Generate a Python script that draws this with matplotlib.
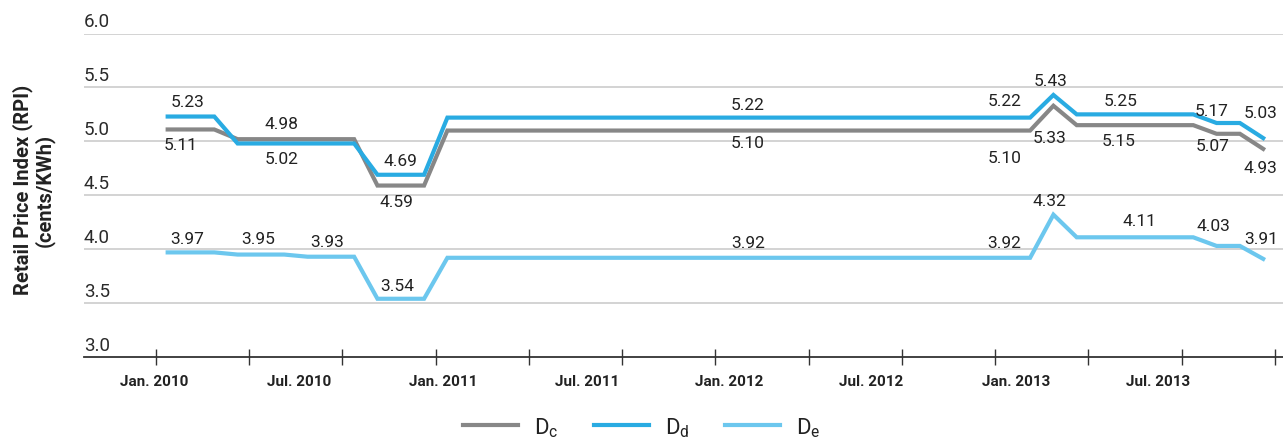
import numpy as np
import pandas as pd
import matplotlib
matplotlib.use("Agg")
import matplotlib.pyplot as plt
from matplotlib.transforms import blended_transform_factory

plt.rcParams["font.family"] = ["Roboto", "DejaVu Sans"]
plt.rcParams["mathtext.default"] = "regular"

# monthly values, Jan 2010 .. Dec 2013
months = pd.date_range("2010-01-01", periods=48, freq="MS")

d_c = [5.11, 5.11, 5.11, 5.02, 5.02, 5.02, 5.02, 5.02, 5.02, 4.59, 4.59, 4.59,
       5.10, 5.10, 5.10, 5.10, 5.10, 5.10, 5.10, 5.10, 5.10, 5.10, 5.10, 5.10,
       5.10, 5.10, 5.10, 5.10, 5.10, 5.10, 5.10, 5.10, 5.10, 5.10, 5.10, 5.10,
       5.10, 5.10, 5.33, 5.15, 5.15, 5.15, 5.15, 5.15, 5.15, 5.07, 5.07, 4.93]
d_d = [5.23, 5.23, 5.23, 4.98, 4.98, 4.98, 4.98, 4.98, 4.98, 4.69, 4.69, 4.69,
       5.22, 5.22, 5.22, 5.22, 5.22, 5.22, 5.22, 5.22, 5.22, 5.22, 5.22, 5.22,
       5.22, 5.22, 5.22, 5.22, 5.22, 5.22, 5.22, 5.22, 5.22, 5.22, 5.22, 5.22,
       5.22, 5.22, 5.43, 5.25, 5.25, 5.25, 5.25, 5.25, 5.25, 5.17, 5.17, 5.03]
d_e = [3.97, 3.97, 3.97, 3.95, 3.95, 3.95, 3.93, 3.93, 3.93, 3.54, 3.54, 3.54,
       3.92, 3.92, 3.92, 3.92, 3.92, 3.92, 3.92, 3.92, 3.92, 3.92, 3.92, 3.92,
       3.92, 3.92, 3.92, 3.92, 3.92, 3.92, 3.92, 3.92, 3.92, 3.92, 3.92, 3.92,
       3.92, 3.92, 4.32, 4.11, 4.11, 4.11, 4.11, 4.11, 4.11, 4.03, 4.03, 3.91]

series_names = ["D$_{c}$", "D$_{d}$", "D$_{e}$"]
series_colors = ["#878787", "#29abe2", "#6cc7ee"]

# value labels as placed on the chart: (month index, y, text)
value_labels = [
    (0.85, 5.365, "5.23"), (0.55, 4.97, "5.11"),
    (4.9, 5.17, "4.98"), (4.9, 4.84, "5.02"),
    (10.0, 4.82, "4.69"), (9.8, 4.44, "4.59"),
    (24.9, 5.34, "5.22"), (24.9, 4.99, "5.10"),
    (35.9, 5.38, "5.22"), (35.9, 4.85, "5.10"),
    (37.9, 5.56, "5.43"), (37.85, 5.04, "5.33"),
    (40.9, 5.38, "5.25"), (40.8, 5.01, "5.15"),
    (44.8, 5.29, "5.17"), (44.85, 4.96, "5.07"),
    (46.9, 5.27, "5.03"), (46.9, 4.76, "4.93"),
    (0.85, 4.10, "3.97"), (3.87, 4.10, "3.95"), (6.85, 4.07, "3.93"),
    (9.85, 3.66, "3.54"), (24.9, 4.065, "3.92"), (35.9, 4.065, "3.92"),
    (37.85, 4.45, "4.32"), (41.7, 4.27, "4.11"), (44.85, 4.22, "4.03"),
    (46.9, 4.10, "3.91"),
]

x_labels = ["Jan. 2010", "Jul. 2010", "Jan. 2011", "Jul. 2011",
            "Jan. 2012", "Jul. 2012", "Jan. 2013", "Jul. 2013"]
x_label_pos = [-0.56, 5.62, 11.8, 18.0, 24.1, 30.2, 36.4, 42.5]
y_ticks = [3.0, 3.5, 4.0, 4.5, 5.0, 5.5, 6.0]

x = np.arange(len(months))

fig = plt.figure(figsize=(12.83, 4.39), dpi=100)
ax = fig.add_axes([84 / 1283, 1 - 358 / 439, 1 - 84 / 1283, (358 - 34.5) / 439])

for vals, name, col in zip([d_c, d_d, d_e], series_names, series_colors):
    ax.plot(x, vals, color=col, lw=3.0, label=name, solid_joinstyle="miter", zorder=3)

ax.set_xlim(-3.59, 47.85)
ax.set_ylim(3.0, 6.0)

# grid lines and y labels sitting above them
for t in y_ticks[1:]:
    ax.axhline(t, color="#cccccc", lw=1.2, zorder=1)
trans = blended_transform_factory(ax.transAxes, ax.transData)
for t in y_ticks:
    ax.annotate(f"{t:.1f}", xy=(0, t), xycoords=trans, xytext=(0, 2.5),
                textcoords="offset points", ha="left", va="bottom",
                fontsize=13.5, color="#2a2a2a")

for sp in ["top", "right", "left"]:
    ax.spines[sp].set_visible(False)
ax.spines["bottom"].set_color("#333333")
ax.spines["bottom"].set_linewidth(1.3)
ax.set_yticks([])

# tick marks between categories, every 4 months
ax.set_xticks(np.arange(-0.5, 48, 4))
ax.set_xticklabels([])
ax.tick_params(axis="x", direction="inout", length=12, width=1, color="#333333")

for pos, lab in zip(x_label_pos, x_labels):
    ax.annotate(lab, xy=(pos, 0), xycoords=("data", "axes fraction"),
                xytext=(0, -12.5), textcoords="offset points", ha="center",
                va="top", fontsize=11, fontweight="bold", color="#222222")

for xi, yi, txt in value_labels:
    ax.text(xi, yi, txt, ha="center", va="center", fontsize=12.5,
            color="#222222", zorder=4)

fig.text(0.026, 1 - 190 / 439, "Retail Price Index (RPI)\n(cents/KWh)",
         rotation=90, ha="center", va="center", fontsize=14.5,
         fontweight="bold", color="#222222", linespacing=1.05)

fig.legend(loc="center", bbox_to_anchor=(0.5, 1 - 428 / 439), ncol=3,
           frameon=False, fontsize=16, handlelength=2.5, handletextpad=0.7,
           columnspacing=1.6, labelcolor="#222222")

fig.savefig("out.png", dpi=100)
